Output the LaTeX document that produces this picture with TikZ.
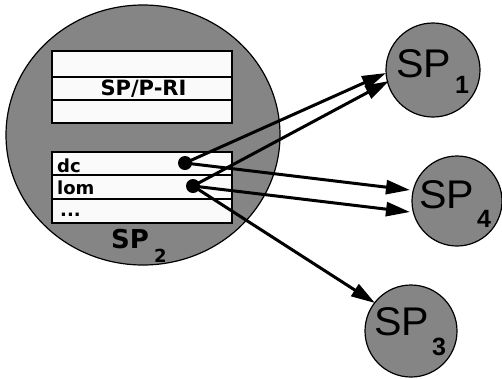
\documentclass[tikz,border=0pt]{standalone}
\usepackage{fontspec}
\usepackage{graphicx}
\setmainfont{Liberation Sans}
\newfontfamily\heavyfont{DejaVu Sans}
\usetikzlibrary{arrows.meta,shapes.geometric}
\definecolor{sgray}{HTML}{858585}
\definecolor{rowfill}{HTML}{FAFAFA}
\begin{document}
\begin{tikzpicture}[x=1pt,y=-1pt,
  bigcirc/.style={ellipse, draw=black, line width=1.2pt, fill=sgray, minimum width=274pt, minimum height=260pt, inner sep=0pt},
  spc/.style={circle, draw=black, line width=1.2pt, fill=sgray, inner sep=0pt},
  rowbox/.style={draw=black, line width=1.6pt, fill=rowfill, minimum width=180pt, inner sep=0pt},
  arr/.style={line width=3pt, -{Triangle[length=24pt,width=14pt]}},
  blackdot/.style={circle, fill=black, minimum size=14pt, inner sep=0pt},
  lbl/.style={anchor=base west, inner sep=0pt},
  tbl/.style={anchor=base west, inner sep=0pt, font=\heavyfont\bfseries\fontsize{18}{18}\selectfont}
]
\useasboundingbox (0,0) rectangle (502,378);
% circles
\node[bigcirc] (sp2) at (143,135) {};
\node[spc, minimum size=94pt] (sp1) at (433,70) {};
\node[spc, minimum size=90pt] (sp4) at (457,201) {};
\node[spc, minimum size=92pt] (sp3) at (411,331) {};
% upper table
\node[rowbox, minimum height=26pt] (r1) at (142,64) {};
\node[rowbox, minimum height=23pt] (r2) at (142,88.5) {};
\node[rowbox, minimum height=23pt] (r3) at (142,111.5) {};
\node[anchor=base, inner sep=0pt, font=\heavyfont\bfseries\fontsize{21}{21}\selectfont] (sppri) at (143.5,95) {SP/P-RI};
% lower table
\node[rowbox, minimum height=23pt] (r4) at (142,163.5) {};
\node[rowbox, minimum height=24pt] (r5) at (142,187) {};
\node[rowbox, minimum height=24pt] (r6) at (142,211) {};
\node[tbl] (dc) at (57,172) {dc};
\node[tbl] (lom) at (57,194) {lom};
\node[tbl] (etc) at (60,216) {...};
% labels
\node[lbl, font=\heavyfont\bfseries\fontsize{26}{26}\selectfont] (sp2a) at (111,248) {SP};
\node[lbl, font=\heavyfont\bfseries\fontsize{18}{18}\selectfont] (sp2b) at (154,262) {2};
\node[lbl, font=\fontsize{40}{40}\selectfont] (sp1a) at (396,77) {\scalebox{1.03}[1]{SP}};
\node[lbl, font=\bfseries\fontsize{25}{25}\selectfont] (sp1b) at (455,93) {1};
\node[lbl, font=\fontsize{40}{40}\selectfont] (sp4a) at (419,208) {\scalebox{1.03}[1]{SP}};
\node[lbl, font=\bfseries\fontsize{25}{25}\selectfont] (sp4b) at (477,227) {4};
\node[lbl, font=\fontsize{40}{40}\selectfont] (sp3a) at (374,335) {\scalebox{1.03}[1]{SP}};
\node[lbl, font=\bfseries\fontsize{25}{25}\selectfont] (sp3b) at (432,355) {3};
% dots
\node[blackdot] (dcdot) at (185,163) {};
\node[blackdot] (lomdot) at (193,186) {};
% arrow tips
\coordinate (t1a) at (386,73);
\coordinate (t1b) at (389,81);
\coordinate (t4a) at (410,190);
\coordinate (t4b) at (410,212);
\coordinate (t3) at (375,303);
\draw[arr] (dcdot.center) -- (t1a);
\draw[arr] (lomdot.center) -- (t1b);
\draw[arr] (dcdot.center) -- (t4a);
\draw[arr] (lomdot.center) -- (t4b);
\draw[arr] (lomdot.center) -- (t3);
\end{tikzpicture}
\end{document}
